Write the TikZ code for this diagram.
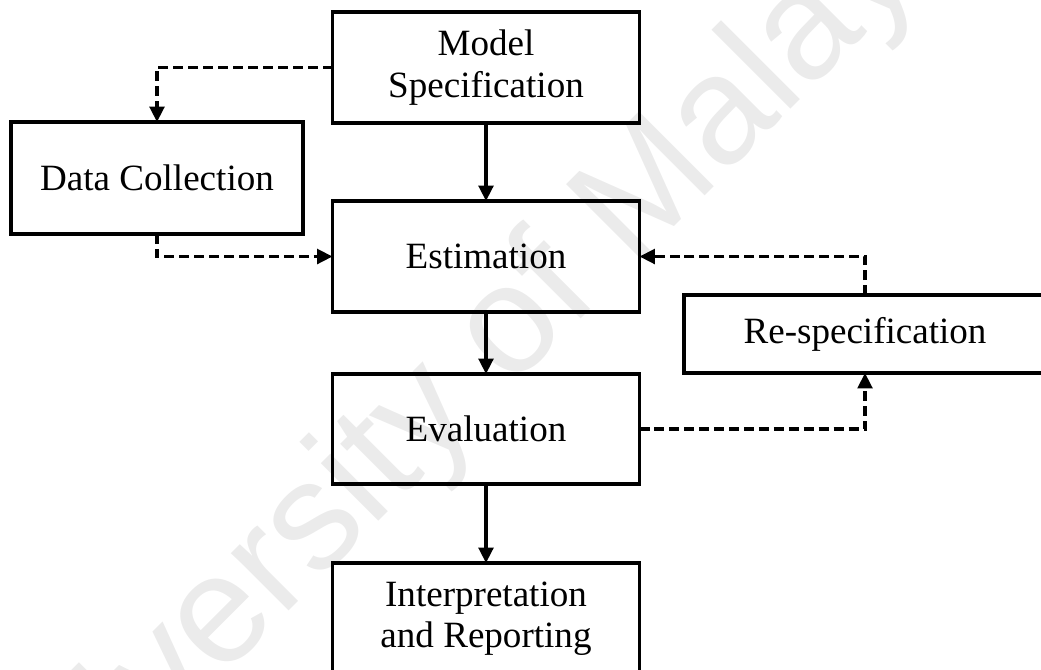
\documentclass[tikz,border=0pt]{standalone}
\usepackage{fontspec}
\setmainfont{Liberation Serif}
\newfontfamily\wmfont{Liberation Sans}
\usetikzlibrary{arrows.meta}

% one unit = 0.75pt, so box sizes below are given in pt as 0.75 x units
\tikzset{
  stepbox/.style={draw, line width=2.7pt, minimum width=230.25pt, minimum height=83.25pt,
    inner sep=0pt, outer sep=0pt, align=center,
    font=\fontsize{27.8pt}{31pt}\selectfont},
  flow/.style={line width=2.4pt, -{Triangle[length=11.5pt,width=11pt]}},
  backflow/.style={flow, dash pattern=on 7.5pt off 3.7pt},
  wmark/.style={text=black!8, font=\wmfont\fontsize{115.5pt}{120pt}\selectfont,
    inner sep=0pt, outer sep=0pt}
}

\begin{document}
\begin{tikzpicture}[x=0.75pt, y=-0.75pt]
  \clip (0,0) rectangle (1041,669);

  % faint background mark
  \node[wmark, rotate=45, anchor=base] (mark) at (493,407) {University of Malaya};

  % process boxes
  \node[stepbox] (ms) at (486,67.5) {Model\\Specification};
  \node[stepbox, minimum width=219pt, minimum height=84pt] (dc) at (157,178) {Data Collection};
  \node[stepbox] (est) at (486,256.5) {Estimation};
  \node[stepbox, minimum height=82.5pt] (ev) at (486,429) {Evaluation};
  \node[stepbox] (ir) at (486,618.5) {Interpretation\\and Reporting};
  \node[stepbox, minimum width=271.5pt, minimum height=58.5pt] (rs) at (865,334) {Re-specification};

  % main sequence
  \draw[flow] (ms) -- (est);
  \draw[flow] (est) -- (ev);
  \draw[flow] (ev) -- (ir);

  % data and feedback paths
  \draw[backflow] (ms.west) -| (dc.north);
  \draw[backflow] (dc.south) |- (est.west);
  \draw[backflow] (ev.east) -| (rs.south);
  \draw[backflow] (rs.north) |- (est.east);
\end{tikzpicture}
\end{document}
